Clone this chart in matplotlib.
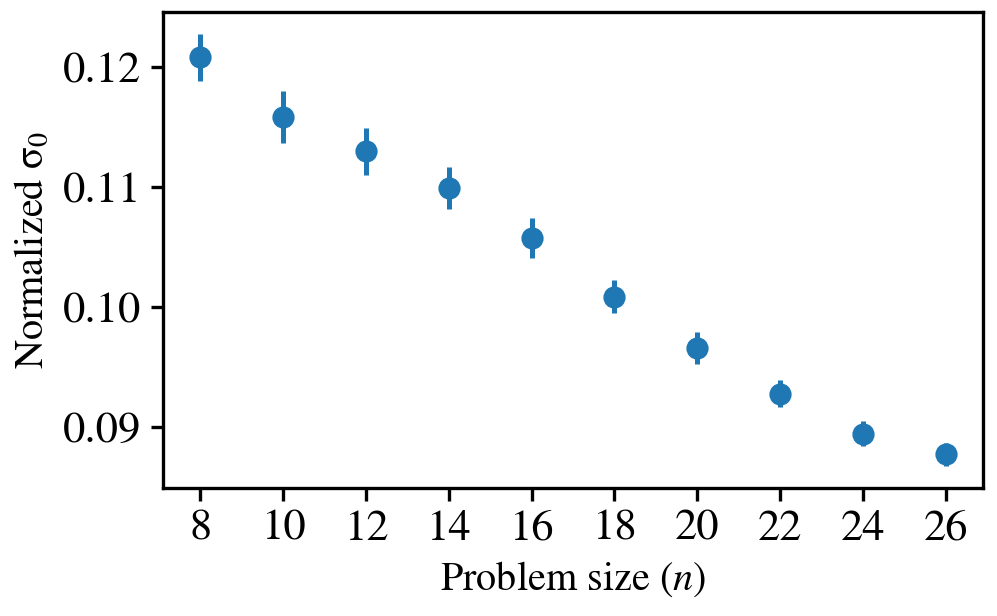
import matplotlib
matplotlib.use("Agg")
import matplotlib.pyplot as plt

n_values = [8, 10, 12, 14, 16, 18, 20, 22, 24, 26]
sigma0 = [0.12083, 0.11589, 0.11300, 0.10995, 0.10578, 0.10089, 0.09658, 0.09278, 0.08945, 0.08772]
sigma0_err = [0.00199, 0.00215, 0.00196, 0.00178, 0.00170, 0.00139, 0.00132, 0.00114, 0.00104, 0.00099]

plt.rcParams['font.family'] = ['STIXGeneral', 'DejaVu Serif']
plt.rcParams['mathtext.fontset'] = 'stix'
plt.rcParams['font.size'] = 16
plt.rcParams['axes.linewidth'] = 1.2
plt.rcParams['xtick.major.width'] = 1.2
plt.rcParams['ytick.major.width'] = 1.2
plt.rcParams['xtick.major.size'] = 4.5
plt.rcParams['ytick.major.size'] = 4.5

fig = plt.figure(figsize=(4.985, 3.08), dpi=200)
ax = fig.add_axes([163/997, 1 - 488/616, (983-163)/997, (488-12)/616])
ax.errorbar(n_values, sigma0, yerr=sigma0_err, fmt='o', color='#1f77b4',
            markersize=7, elinewidth=1.8)
ax.set_xticks(n_values)
ax.set_yticks([0.09, 0.10, 0.11, 0.12])
ax.set_yticklabels(['0.09', '0.10', '0.11', '0.12'])
ax.set_xlabel('Problem size ($n$)', fontsize=14.5)
ax.set_ylabel('Normalized σ$_0$', fontsize=14.5)
fig.savefig('out.png', dpi=200)
